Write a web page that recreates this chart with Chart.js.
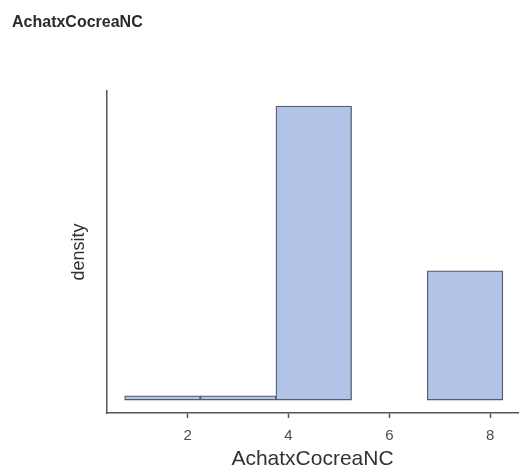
<!DOCTYPE html>
<html>
<head>
<meta charset="utf-8">
<script src="https://cdn.jsdelivr.net/npm/chart.js@4/dist/chart.umd.min.js"></script>
<style>
  html, body { margin: 0; padding: 0; background: #fff; }
  #wrap { width: 520px; height: 472px; }
</style>
</head>
<body>
<div id="wrap"><canvas id="chart" width="520" height="472"></canvas></div>
<script>
// Центры интервалов гистограммы (ширина интервала 1.5)
const binCenters = [1.5, 3, 4.5, 6, 7.5];
// Плотность по интервалам
const densities = [0.0065, 0.0065, 0.455, null, 0.2];
// Подписи оси X
const xTicks = [2, 4, 6, 8];

const ctx = document.getElementById('chart').getContext('2d');
new Chart(ctx, {
    type: 'bar',
    data: {
        datasets: [{
            label: 'AchatxCocreaNC',
            data: binCenters.map((x, i) => ({ x: x, y: densities[i] })),
            backgroundColor: '#b1c3e6',
            borderColor: '#555d6d',
            borderWidth: 1.3,
            borderSkipped: false,
            barPercentage: 1,
            categoryPercentage: 1
        }]
    },
    options: {
        responsive: false,
        animation: false,
        layout: { padding: { left: 12, right: 2, top: 0, bottom: 0 } },
        plugins: {
            legend: { display: false },
            tooltip: { enabled: false },
            title: {
                display: true,
                text: 'AchatxCocreaNC',
                align: 'start',
                color: '#2b2b2b',
                font: { family: 'Liberation Sans', size: 16, weight: 'bold' },
                padding: { top: 13, bottom: 59 }
            }
        },
        scales: {
            x: {
                type: 'linear',
                offset: false,
                min: 0.4,
                max: 8.55,
                afterBuildTicks: scale => { scale.ticks = xTicks.map(v => ({ value: v })); },
                afterFit: scale => { scale.height = 59; },
                grid: { display: true, offset: false, drawOnChartArea: false, drawTicks: true, tickLength: 5, tickColor: '#555', tickWidth: 1.5 },
                border: { display: true, color: '#555', width: 1.5 },
                ticks: {
                    color: '#4d4d4d',
                    padding: 9,
                    maxRotation: 0,
                    font: { family: 'Liberation Sans', size: 15 }
                },
                title: {
                    display: true,
                    text: 'AchatxCocreaNC',
                    color: '#333',
                    font: { family: 'Liberation Sans', size: 21 },
                    padding: { top: 4, bottom: 0 }
                }
            },
            y: {
                min: -0.02,
                max: 0.478,
                afterFit: scale => { scale.width = 95; },
                grid: { display: false },
                border: { display: true, color: '#555', width: 1.5 },
                ticks: { display: false },
                title: {
                    display: true,
                    text: 'density',
                    color: '#333',
                    font: { family: 'Liberation Sans', size: 18 },
                    padding: { top: 56, bottom: 0 }
                }
            }
        }
    }
});
</script>
</body>
</html>
